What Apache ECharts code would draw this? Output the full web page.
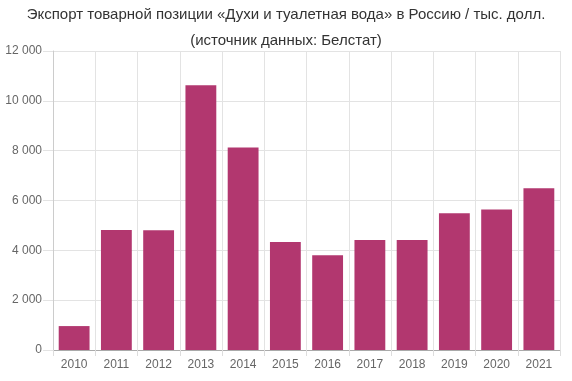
<!DOCTYPE html>
<html><head><meta charset="utf-8">
<script src="https://cdn.jsdelivr.net/npm/echarts@6/dist/echarts.min.js"></script>
<style>html,body{margin:0;padding:0;background:#fff}#c{width:572px;height:381px}</style>
</head><body><div id="c"></div>
<script>
const years = ['2010','2011','2012','2013','2014','2015','2016','2017','2018','2019','2020','2021'];
const values = [960, 4820, 4810, 10630, 8130, 4330, 3800, 4410, 4410, 5490, 5640, 6490];
const titleLine1 = 'Экспорт товарной позиции «Духи и туалетная вода» в Россию / тыс. долл.';
const titleLine2 = '(источник данных: Белстат)';

const font = 'Liberation Sans, Arial, sans-serif';
const tStyle = {fontFamily:font,fontSize:15,fontWeight:'normal',color:'#333'};
const chart = echarts.init(document.getElementById('c'), null, {renderer:'canvas'});
chart.setOption({
  animation:false,
  title:[
    {text:titleLine1,left:'center',top:2,textStyle:tStyle},
    {text:titleLine2,left:'center',top:28,textStyle:tStyle}
  ],
  grid:{left:53,right:12,top:51,bottom:31,containLabel:false},
  xAxis:{type:'category',data:years,
    axisLine:{lineStyle:{color:'#aaa'}},
    axisTick:{show:true,length:6,lineStyle:{color:'#ddd'}},
    splitLine:{show:true,lineStyle:{color:'#e3e3e3'}},
    axisLabel:{color:'#666',fontSize:12,fontFamily:font,margin:9}},
  yAxis:{type:'value',min:0,max:12000,interval:2000,
    axisLine:{show:true,lineStyle:{color:'#ccc'}},
    axisTick:{show:true,length:10,lineStyle:{color:'#e3e3e3'}},
    splitLine:{lineStyle:{color:'#e3e3e3'}},
    axisLabel:{color:'#666',fontSize:12,fontFamily:font,margin:11,
      formatter:v=>String(v).replace(/\B(?=(\d{3})+(?!\d))/g,' ')}},
  series:[{type:'bar',data:values,barWidth:'73%',itemStyle:{color:'#B2376F'}}]
});
</script></body></html>
